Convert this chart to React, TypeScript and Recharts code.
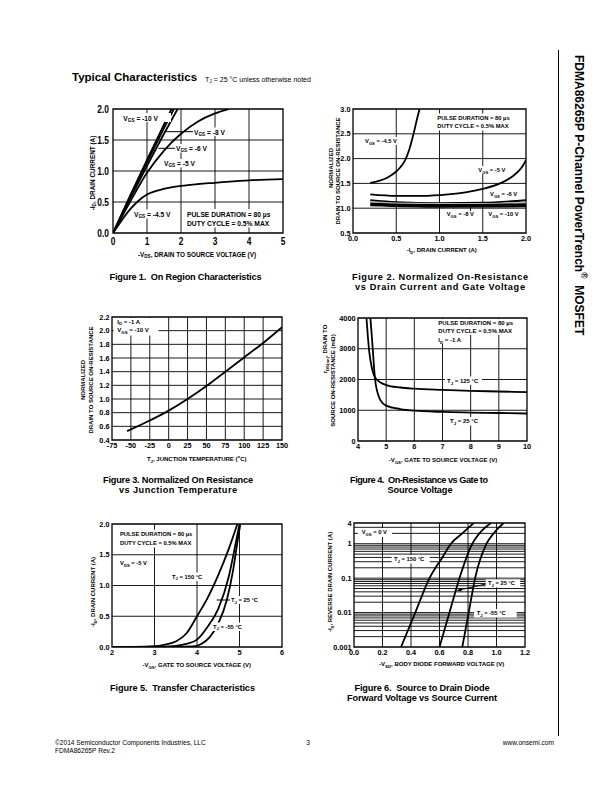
import React from 'react';
import { LineChart, Line, XAxis, YAxis, CartesianGrid, ReferenceArea } from 'recharts';

const FONT = '"Liberation Sans", Arial, Helvetica, sans-serif';

type Pt = { x: number; y: number };
const pts = (xs: number[], ys: number[]): Pt[] => xs.map((x, i) => ({ x, y: ys[i] }));

// ---------- Figure 1: On Region Characteristics ----------
const f1XTicks = [0, 1, 2, 3, 4, 5];
const f1YTicks = [0, 0.5, 1.0, 1.5, 2.0];
const f1Vgs10 = pts([0, 0.5, 1, 1.5, 1.72], [0, 0.6, 1.18, 1.75, 2.0]);
const f1Vgs8 = pts([0, 0.5, 1, 1.5, 1.79], [0, 0.58, 1.14, 1.69, 2.0]);
const f1Vgs6 = pts([0, 0.5, 1, 1.5, 1.9], [0, 0.55, 1.08, 1.6, 2.0]);
const f1Vgs5 = pts([0, 0.5, 1, 1.5, 2, 2.5, 3, 3.4], [0, 0.5, 0.97, 1.33, 1.6, 1.8, 1.93, 2.0]);
const f1Vgs45 = pts([0, 0.25, 0.5, 0.75, 1, 1.5, 2, 2.5, 3, 4, 5], [0, 0.2, 0.38, 0.52, 0.62, 0.71, 0.76, 0.79, 0.81, 0.85, 0.87]);

// ---------- Figure 2: Normalized On-Resistance vs Drain Current ----------
const f2XTicks = [0, 0.5, 1.0, 1.5, 2.0];
const f2YTicks = [0.5, 1.0, 1.5, 2.0, 2.5, 3.0];
const f2Vgs45 = pts([0.2, 0.3, 0.4, 0.5, 0.55, 0.6, 0.65, 0.7, 0.74, 0.77], [1.51, 1.55, 1.62, 1.74, 1.83, 1.96, 2.18, 2.5, 2.8, 3.0]);
const f2Vgs5 = pts([0.2, 0.5, 0.8, 1.1, 1.3, 1.5, 1.7, 1.85, 1.95, 2.0], [1.28, 1.25, 1.25, 1.28, 1.32, 1.39, 1.5, 1.65, 1.82, 1.97]);
const f2Vgs6 = pts([0.2, 0.5, 1.0, 1.5, 2.0], [1.16, 1.12, 1.1, 1.11, 1.16]);
const f2Vgs7 = pts([0.2, 0.5, 1.0, 1.5, 2.0], [1.12, 1.09, 1.08, 1.08, 1.1]);
const f2Vgs8 = pts([0.2, 1.0, 2.0], [1.09, 1.06, 1.08]);
const f2Vgs10 = pts([0.2, 1.0, 2.0], [1.06, 1.03, 1.04]);

// ---------- Figure 3: Normalized On Resistance vs Junction Temperature ----------
const f3XTicks = [-75, -50, -25, 0, 25, 50, 75, 100, 125, 150];
const f3YTicks = [0.4, 0.6, 0.8, 1.0, 1.2, 1.4, 1.6, 1.8, 2.0, 2.2];
const f3Curve = pts([-55, -50, -25, 0, 25, 50, 75, 100, 125, 150], [0.53, 0.555, 0.685, 0.83, 1.0, 1.19, 1.4, 1.61, 1.82, 2.05]);

// ---------- Figure 4: On-Resistance vs Gate to Source Voltage ----------
const f4XTicks = [4, 5, 6, 7, 8, 9, 10];
const f4YTicks = [0, 1000, 2000, 3000, 4000];
const f4Tj125 = pts([4.3, 4.35, 4.4, 4.5, 4.6, 4.8, 5, 5.5, 6, 7, 8, 9, 10], [4000, 3400, 2900, 2350, 2080, 1900, 1820, 1740, 1700, 1660, 1630, 1610, 1590]);
const f4Tj25 = pts([4.44, 4.5, 4.55, 4.6, 4.7, 4.8, 5, 5.5, 6, 7, 8, 9, 10], [4000, 3300, 2650, 2050, 1550, 1320, 1150, 1040, 985, 945, 925, 910, 895]);

// ---------- Figure 5: Transfer Characteristics ----------
const f5XTicks = [2, 3, 4, 5, 6];
const f5YTicks = [0, 0.5, 1.0, 1.5, 2.0];
const f5Tj150 = pts([2, 2.5, 3, 3.25, 3.5, 3.75, 4, 4.25, 4.5, 4.75, 4.95], [0, 0.002, 0.012, 0.04, 0.09, 0.22, 0.5, 0.8, 1.17, 1.6, 2.0]);
const f5Tj25 = pts([2, 3, 3.5, 3.75, 4, 4.25, 4.5, 4.75, 4.9, 5.0], [0, 0.001, 0.02, 0.05, 0.12, 0.33, 0.62, 1.15, 1.65, 2.0]);
const f5TjM55 = pts([2, 3.5, 3.9, 4.1, 4.3, 4.5, 4.7, 4.85, 4.95, 5.02], [0, 0.002, 0.01, 0.05, 0.16, 0.38, 0.76, 1.25, 1.7, 2.0]);

// ---------- Figure 6: Source to Drain Diode Forward Voltage ----------
const f6XTicks = [0, 0.2, 0.4, 0.6, 0.8, 1.0, 1.2];
const f6YTicks = [0.001, 0.01, 0.1, 1, 4];
const f6YGrid = [
  0.002, 0.003, 0.004, 0.005, 0.006, 0.007, 0.008, 0.009, 0.01,
  0.02, 0.03, 0.04, 0.05, 0.06, 0.07, 0.08, 0.09, 0.1,
  0.2, 0.3, 0.4, 0.5, 0.6, 0.7, 0.8, 0.9, 1,
  2, 3,
];
const f6Tj150 = pts([0.33, 0.43, 0.53, 0.62, 0.68, 0.76, 0.84], [0.001, 0.01, 0.1, 0.4, 1, 2, 4]);
const f6Tj25 = pts([0.6, 0.67, 0.74, 0.83, 0.88, 0.96], [0.001, 0.01, 0.1, 1, 2, 4]);
const f6TjM55 = pts([0.76, 0.805, 0.85, 0.93, 0.98, 1.05], [0.001, 0.01, 0.1, 1, 2, 4]);

// ---------- helpers ----------
function rich(s: string, fs: number) {
  const out: React.ReactNode[] = [];
  const re = /([_^])\{([^}]*)\}/g;
  let last = 0, k = 0, pend = 0;
  let m: RegExpExecArray | null;
  while ((m = re.exec(s))) {
    if (m.index > last) {
      out.push(<tspan key={k++} dy={pend || undefined}>{s.slice(last, m.index)}</tspan>);
      pend = 0;
    }
    const off = m[1] === '_' ? fs * 0.3 : -fs * 0.45;
    out.push(<tspan key={k++} fontSize={fs * 0.72} dy={pend + off}>{m[2]}</tspan>);
    pend = -off;
    last = re.lastIndex;
  }
  if (last < s.length) out.push(<tspan key={k++} dy={pend || undefined}>{s.slice(last)}</tspan>);
  return out;
}

type TxtProps = { x: number; y: number; s: string; fs?: number; anchor?: 'start' | 'middle' | 'end'; weight?: number; rot?: number; len?: number };
function Txt({ x, y, s, fs = 6, anchor = 'start', weight = 700, rot = 0, len }: TxtProps) {
  return (
    <text
      transform={`translate(${x},${y}) rotate(${rot})`}
      fontSize={fs}
      fontWeight={weight}
      textAnchor={anchor}
      dominantBaseline="central"
      fill="#000"
      style={{ whiteSpace: 'pre' }}
      textLength={len}
      lengthAdjust={len ? 'spacing' : undefined}
    >
      {rich(s, fs)}
    </text>
  );
}

const Box = ({ x, y, w, h }: { x: number; y: number; w: number; h: number }) => (
  <rect x={x} y={y} width={w} height={h} fill="#fff" />
);

type SeriesDef = { pts: Pt[]; stroke?: string; width?: number };
type PanelProps = {
  left: number; top: number; w: number; h: number;
  xDomain: [number, number]; yDomain: [number, number];
  xTicks: number[]; yTicks: number[];
  xGrid: number[]; yGrid: number[];
  xFmt: (v: number) => string; yFmt: (v: number) => string;
  series: SeriesDef[]; logY?: boolean; big?: boolean;
};

function Panel(p: PanelProps) {
  const ML = 50, MT = 10, MR = 10, XH = 24;
  const yTick = (t: any) => {
    const v = p.yFmt(t.payload.value);
    if (p.big)
      return (
        <g transform={`translate(${t.x},${t.y}) scale(0.73,1)`}>
          <text textAnchor="end" dy="0.36em" fontSize={11.5} fontWeight={700} fill="#000">{v}</text>
        </g>
      );
    return <text x={t.x} y={t.y} textAnchor="end" dy="0.36em" fontSize={7.3} fontWeight={700} fill="#000">{v}</text>;
  };
  const xTick = (t: any) => {
    const v = p.xFmt(t.payload.value);
    if (p.big)
      return (
        <g transform={`translate(${t.x},${t.y}) scale(0.73,1)`}>
          <text textAnchor="middle" dy="0.72em" fontSize={11.5} fontWeight={700} fill="#000">{v}</text>
        </g>
      );
    return <text x={t.x} y={t.y} textAnchor="middle" dy="0.72em" fontSize={7.3} fontWeight={700} fill="#000">{v}</text>;
  };
  return (
    <div style={{ position: 'absolute', left: p.left - ML, top: p.top - MT }}>
      <LineChart width={p.w + ML + MR} height={p.h + MT + XH} margin={{ top: MT, right: MR, bottom: 0, left: 0 }}>
        <CartesianGrid stroke="#000" strokeWidth={0.9} horizontalValues={p.yGrid} verticalValues={p.xGrid} />
        <XAxis
          type="number" dataKey="x" domain={p.xDomain} ticks={p.xTicks} allowDataOverflow
          height={XH} tickLine={false} axisLine={false} tickSize={0} tickMargin={p.big ? 3.5 : 3.2}
          interval={0} tick={xTick}
        />
        <YAxis
          type="number" domain={p.yDomain} ticks={p.yTicks} allowDataOverflow
          scale={p.logY ? 'log' : 'auto'} width={ML} tickLine={false} axisLine={false}
          tickSize={0} tickMargin={p.big ? 4 : 2.5} interval={0} tick={yTick}
        />
        <ReferenceArea
          x1={p.xDomain[0]} x2={p.xDomain[1]} y1={p.yDomain[0]} y2={p.yDomain[1]}
          fill="none" fillOpacity={0} stroke="#000" strokeWidth={1.3}
        />
        {p.series.map((s, i) => (
          <Line
            key={i} data={s.pts} dataKey="y" type="monotone" dot={false} activeDot={false}
            stroke={s.stroke || '#000'} strokeWidth={s.width || 1.8} isAnimationActive={false}
          />
        ))}
      </LineChart>
    </div>
  );
}

const f1 = (v: number) => v.toFixed(1);
const f0 = (v: number) => String(v);

export default function App() {
  return (
    <div style={{ position: 'absolute', left: 0, top: 0, width: 612, height: 792, background: '#fff', fontFamily: FONT, overflow: 'hidden' }}>
      <Panel left={113} top={109} w={170} h={124} xDomain={[0, 5]} yDomain={[0, 2]}
        xTicks={f1XTicks} yTicks={f1YTicks} xGrid={[1, 2, 3, 4]} yGrid={[0.5, 1.0, 1.5]}
        xFmt={f0} yFmt={f1} big
        series={[{ pts: f1Vgs10 }, { pts: f1Vgs8 }, { pts: f1Vgs6 }, { pts: f1Vgs5 }, { pts: f1Vgs45 }]} />
      <Panel left={353} top={109} w={173} h={124} xDomain={[0, 2]} yDomain={[0.5, 3]}
        xTicks={f2XTicks} yTicks={f2YTicks} xGrid={[0.5, 1.0, 1.5]} yGrid={[1.0, 1.5, 2.0, 2.5]}
        xFmt={f1} yFmt={f1}
        series={[{ pts: f2Vgs45 }, { pts: f2Vgs5 }, { pts: f2Vgs6 }, { pts: f2Vgs7, stroke: '#b0b0b0', width: 2.4 }, { pts: f2Vgs8, width: 2.2 }, { pts: f2Vgs10, width: 2.2 }]} />
      <Panel left={112} top={317} w={170} h={123} xDomain={[-75, 150]} yDomain={[0.4, 2.2]}
        xTicks={f3XTicks} yTicks={f3YTicks} xGrid={[-50, -25, 0, 25, 50, 75, 100, 125]} yGrid={[0.6, 0.8, 1.0, 1.2, 1.4, 1.6, 1.8, 2.0]}
        xFmt={f0} yFmt={f1}
        series={[{ pts: f3Curve }]} />
      <Panel left={358} top={318} w={169} h={123} xDomain={[4, 10]} yDomain={[0, 4000]}
        xTicks={f4XTicks} yTicks={f4YTicks} xGrid={[5, 6, 7, 8, 9]} yGrid={[1000, 2000, 3000]}
        xFmt={f0} yFmt={f0}
        series={[{ pts: f4Tj125 }, { pts: f4Tj25 }]} />
      <Panel left={112} top={524} w={170} h={123} xDomain={[2, 6]} yDomain={[0, 2]}
        xTicks={f5XTicks} yTicks={f5YTicks} xGrid={[3, 4, 5]} yGrid={[0.5, 1.0, 1.5]}
        xFmt={f0} yFmt={f1}
        series={[{ pts: f5Tj150 }, { pts: f5Tj25 }, { pts: f5TjM55 }]} />
      <Panel left={354} top={523} w={171} h={124} xDomain={[0, 1.2]} yDomain={[0.001, 4]} logY
        xTicks={f6XTicks} yTicks={f6YTicks} xGrid={[0.2, 0.4, 0.6, 0.8, 1.0]} yGrid={f6YGrid}
        xFmt={f1} yFmt={f0}
        series={[{ pts: f6Tj150 }, { pts: f6Tj25 }, { pts: f6TjM55 }]} />

      <svg width={612} height={792} style={{ position: 'absolute', left: 0, top: 0, pointerEvents: 'none' }}>
        {/* page header */}
        <Txt x={72} y={77} s="Typical Characteristics" fs={11.5} />
        <Txt x={205} y={78.5} s="T_{J} = 25 °C unless otherwise noted" fs={7} weight={400} />
        <line x1={558.5} y1={50} x2={558.5} y2={736} stroke="#000" strokeWidth={1} />
        <Txt x={578.5} y={55} s="FDMA86265P P-Channel PowerTrench^{®}  MOSFET" fs={12} rot={90} />

        {/* Figure 1 annotations */}
        <Box x={121} y={113} w={50} h={9} />
        <Txt x={123.3} y={117.7} s="V_{GS} = -10 V" fs={6.6} />
        <line x1={164} y1={131.7} x2={193} y2={131.7} stroke="#000" strokeWidth={1} />
        <Box x={193} y={127.5} w={36} h={8.5} />
        <Txt x={194} y={131.7} s="V_{GS} = -8 V" fs={6.6} />
        <line x1={158.3} y1={148.3} x2={175} y2={148.3} stroke="#000" strokeWidth={1} />
        <Box x={175} y={144} w={36} h={8.5} />
        <Txt x={176} y={148.3} s="V_{GS} = -6 V" fs={6.6} />
        <Box x={162.5} y={159} w={37} h={8.5} />
        <Txt x={164} y={163.3} s="V_{GS} = -5 V" fs={6.6} />
        <Box x={132} y={209.5} w={45} h={9} />
        <Txt x={134} y={214} s="V_{GS} = -4.5 V" fs={6.6} />
        <Box x={185} y={209} w={90} h={18.5} />
        <Txt x={187} y={214} s="PULSE DURATION = 80 µs" fs={6.7} />
        <Txt x={187} y={222.7} s="DUTY CYCLE = 0.5% MAX" fs={6.7} />
        <Txt x={197} y={254} s="-V_{DS}, DRAIN TO SOURCE VOLTAGE (V)" fs={6.4} anchor="middle" />
        <Txt x={92} y={173} s="-I_{D}, DRAIN CURRENT (A)" fs={6.4} anchor="middle" rot={-90} />
        <Txt x={185.5} y={277} s="Figure 1.  On Region Characteristics" fs={9.2} anchor="middle" len={152} />

        {/* Figure 2 annotations */}
        <Box x={435} y={113.5} w={77} h={17} />
        <Txt x={437.3} y={118.3} s="PULSE DURATION = 80 µs" fs={5.8} />
        <Txt x={437.3} y={126} s="DUTY CYCLE = 0.5% MAX" fs={5.8} />
        <Box x={363} y={137} w={44} h={8} />
        <Txt x={365} y={141} s="V_{GS} = -4.5 V" fs={5.8} />
        <Box x={476} y={166} w={35} h={8} />
        <Txt x={478.3} y={170} s="V_{GS} = -5 V" fs={5.8} />
        <Box x={488} y={190} w={34} h={8} />
        <Txt x={490} y={194} s="V_{GS} = -6 V" fs={5.8} />
        <Box x={445} y={210} w={35} h={8} />
        <line x1={470.5} y1={207} x2={470.5} y2={211} stroke="#000" strokeWidth={1} />
        <Txt x={446.7} y={214} s="V_{GS} = -8 V" fs={5.8} />
        <Box x={486.5} y={210} w={37} h={8} />
        <Txt x={488.3} y={214} s="V_{GS} = -10 V" fs={5.8} />
        <Txt x={441.7} y={250} s="-I_{D}, DRAIN CURRENT (A)" fs={6} anchor="middle" />
        <Txt x={331} y={168} s="NORMALIZED" fs={6} anchor="middle" rot={-90} />
        <Txt x={337.5} y={171} s="DRAIN TO SOURCE ON-RESISTANCE" fs={6} anchor="middle" rot={-90} />
        <Txt x={440} y={277} s="Figure 2. Normalized On-Resistance" fs={9.2} anchor="middle" len={176} />
        <Txt x={440} y={287} s="vs Drain Current and Gate Voltage" fs={9.2} anchor="middle" len={170} />

        {/* Figure 3 annotations */}
        <Box x={113.5} y={318} w={45} h={17.5} />
        <Txt x={117.3} y={321.5} s="I_{D} = -1 A" fs={6} />
        <Txt x={117.3} y={330} s="V_{GS} = -10 V" fs={6} />
        <Txt x={196.7} y={459} s="T_{J}, JUNCTION TEMPERATURE (^{o}C)" fs={6} anchor="middle" />
        <Txt x={83.3} y={380} s="NORMALIZED" fs={6} anchor="middle" rot={-90} />
        <Txt x={90.7} y={380} s="DRAIN TO SOURCE ON-RESISTANCE" fs={6} anchor="middle" rot={-90} />
        <Txt x={178} y={480} s="Figure 3. Normalized On Resistance" fs={9.2} anchor="middle" len={150} />
        <Txt x={178} y={490} s="vs Junction Temperature" fs={9.2} anchor="middle" len={118} />

        {/* Figure 4 annotations */}
        <Box x={436} y={319} w={84} h={16} />
        <Box x={436} y={335} w={30} h={9} />
        <Txt x={438.3} y={323.3} s="PULSE DURATION = 80 µs" fs={6} />
        <Txt x={438.3} y={330.7} s="DUTY CYCLE = 0.5% MAX" fs={6} />
        <Txt x={438.3} y={340} s="I_{D} = -1 A" fs={6} />
        <Box x={445} y={376.5} w={37} h={8.5} />
        <Txt x={447} y={380.7} s="T_{J} = 125 °C" fs={6} />
        <Box x={448} y={417} w={33} h={8.5} />
        <Txt x={450} y={421} s="T_{J} = 25 °C" fs={6} />
        <Txt x={443} y={460} s="-V_{GS}, GATE TO SOURCE VOLTAGE (V)" fs={6} anchor="middle" />
        <Txt x={325} y={349} s="r_{DS(on)}, DRAIN TO" fs={6} anchor="middle" rot={-90} />
        <Txt x={332.7} y={380.5} s="SOURCE ON-RESISTANCE (mΩ)" fs={6} anchor="middle" rot={-90} />
        <Txt x={419} y={480} s="Figure 4.  On-Resistance vs Gate to" fs={9.2} anchor="middle" len={138} />
        <Txt x={420} y={490} s="Source Voltage" fs={9.2} anchor="middle" len={65} />

        {/* Figure 5 annotations */}
        <Box x={116} y={529.5} w={80} h={18} />
        <Txt x={120} y={534.3} s="PULSE DURATION = 80 µs" fs={5.8} />
        <Txt x={120} y={543.3} s="DUTY CYCLE = 0.5% MAX" fs={5.8} />
        <Box x={118} y={559} w={32} h={8.5} />
        <Txt x={120} y={563.3} s="V_{DS} = -5 V" fs={5.8} />
        <Box x={170} y={572.5} w={37} h={8.5} />
        <Txt x={172} y={576.7} s="T_{J} = 150 °C" fs={5.8} />
        <line x1={216.7} y1={600} x2={230.5} y2={600} stroke="#000" strokeWidth={1} />
        <Box x={230} y={596} w={33} h={8} />
        <Txt x={231} y={600} s="T_{J} = 25 °C" fs={5.8} />
        <Box x={211} y={622.5} w={41} h={8.5} />
        <Txt x={213} y={626.7} s="T_{J} = -55 °C" fs={5.8} />
        <Txt x={196.7} y={665} s="-V_{GS}, GATE TO SOURCE VOLTAGE (V)" fs={6} anchor="middle" />
        <Txt x={93.3} y={592} s="-I_{D}, DRAIN CURRENT (A)" fs={6} anchor="middle" rot={-90} />
        <Txt x={182.5} y={688} s="Figure 5.  Transfer Characteristics" fs={9.2} anchor="middle" len={145} />

        {/* Figure 6 annotations */}
        <Box x={358} y={528} w={34} h={9} />
        <Txt x={361.7} y={532.3} s="V_{GS} = 0 V" fs={5.8} />
        <Box x={391.7} y={555} w={38} h={8.5} />
        <Txt x={394} y={559} s="T_{J} = 150 °C" fs={5.8} />
        <line x1={486} y1={584} x2={459} y2={590} stroke="#000" strokeWidth={1} />
        <polygon points="456.5,590.7 461,587.8 461.8,591.2" fill="#000" />
        <Box x={485.7} y={579.3} w={34.5} h={8} />
        <Txt x={488} y={583.3} s="T_{J} = 25 °C" fs={5.8} />
        <Box x={474} y={609} w={42.7} h={8.5} />
        <Txt x={476.7} y={613.3} s="T_{J} = -55 °C" fs={5.8} />
        <Txt x={441.7} y={664} s="-V_{SD}, BODY DIODE FORWARD VOLTAGE (V)" fs={6} anchor="middle" />
        <Txt x={330} y={582} s="-I_{S}, REVERSE DRAIN CURRENT (A)" fs={6} anchor="middle" rot={-90} />
        <Txt x={422} y={688} s="Figure 6.  Source to Drain Diode" fs={9.2} anchor="middle" len={135} />
        <Txt x={422} y={697.7} s="Forward Voltage vs Source Current" fs={9.2} anchor="middle" len={150} />

        {/* footer */}
        <Txt x={55} y={741.5} s="©2014 Semiconductor Components Industries, LLC" fs={6.6} weight={400} />
        <Txt x={55} y={749.5} s="FDMA86265P Rev.2" fs={6.6} weight={400} />
        <Txt x={308} y={742} s="3" fs={6.6} weight={400} anchor="middle" />
        <Txt x={554} y={741.5} s="www.onsemi.com" fs={6.6} weight={400} anchor="end" />
      </svg>
    </div>
  );
}
